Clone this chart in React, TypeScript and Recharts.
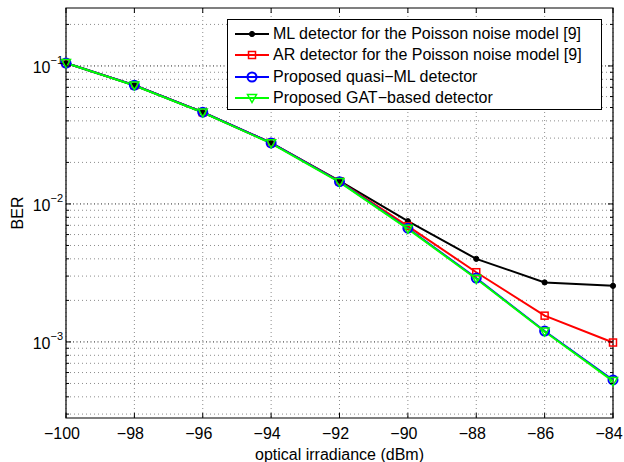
import { CartesianGrid, Legend, Line, LineChart, ReferenceArea, XAxis, YAxis } from 'recharts';

const irradiance = [-100, -98, -96, -94, -92, -90, -88, -86, -84];
const mlBer = [0.105, 0.0725, 0.0462, 0.0277, 0.0147, 0.0075, 0.004, 0.0027, 0.00255];
const arBer = [0.105, 0.0725, 0.0462, 0.0277, 0.0146, 0.0069, 0.0032, 0.00155, 0.00099];
const quasiMlBer = [0.105, 0.0725, 0.0462, 0.0277, 0.0145, 0.00667, 0.0029, 0.0012, 0.00053];
const gatBer = [0.105, 0.0722, 0.046, 0.0275, 0.0144, 0.0066, 0.00287, 0.00119, 0.00052];

const xTicks = [-100, -98, -96, -94, -92, -90, -88, -86, -84];
const decadeTicks = [0.001, 0.01, 0.1];
const minorTicks = [
    0.0003, 0.0004, 0.0005, 0.0006, 0.0007, 0.0008, 0.0009,
    0.002, 0.003, 0.004, 0.005, 0.006, 0.007, 0.008, 0.009,
    0.02, 0.03, 0.04, 0.05, 0.06, 0.07, 0.08, 0.09,
    0.2,
];
const yTicks = [...minorTicks, ...decadeTicks].sort((a, b) => a - b);
const yDomain = [0.000281, 0.263];

const seriesNames = [
    'ML detector for the Poisson noise model [9]',
    'AR detector for the Poisson noise model [9]',
    'Proposed quasi\u2212ML detector',
    'Proposed GAT\u2212based detector',
];

const data = irradiance.map((x, i) => ({
    x,
    ml: mlBer[i],
    ar: arBer[i],
    qml: quasiMlBer[i],
    gat: gatBer[i],
}));

const FONT = '"Liberation Sans", Arial, sans-serif';
const FS = 16;
const W = 624;
const H = 462;
const MARGIN = { top: 8, right: 11, left: 0, bottom: 0 };
const Y_W = 66;
const X_H = 44;
const PLOT_W = W - MARGIN.left - MARGIN.right - Y_W;
const PLOT_H = H - MARGIN.top - MARGIN.bottom - X_H;

// markers
const marker = (kind: string, cx: number, cy: number, key?: any) => {
    if (cx == null || cy == null || isNaN(cx) || isNaN(cy)) return <g key={key} />;
    if (kind === 'ml') return <circle key={key} cx={cx} cy={cy} r={2.6} fill="#000" stroke="#000" />;
    if (kind === 'ar')
        return <rect key={key} x={cx - 3.5} y={cy - 3.5} width={7} height={7} fill="none" stroke="#f00" strokeWidth={1.5} />;
    if (kind === 'qml') return <circle key={key} cx={cx} cy={cy} r={4.5} fill="none" stroke="#00f" strokeWidth={2} />;
    return (
        <polygon
            key={key}
            points={`${cx - 4.5},${cy - 3.5} ${cx + 4.5},${cy - 3.5} ${cx},${cy + 4.5}`}
            fill="none"
            stroke="#0f0"
            strokeWidth={1.5}
        />
    );
};

const series = [
    { key: 'ml', color: '#000' },
    { key: 'ar', color: '#f00' },
    { key: 'qml', color: '#00f' },
    { key: 'gat', color: '#0f0' },
];

function YTick(props: any) {
    const { x, y, payload } = props;
    const v = payload.value;
    const major = decadeTicks.includes(v);
    const len = major ? 5 : 3;
    return (
        <g>
            <line x1={x} x2={x + len} y1={y} y2={y} stroke="#000" />
            <line x1={x + PLOT_W} x2={x + PLOT_W - len} y1={y} y2={y} stroke="#000" />
            {major && (
                <text x={x - 3} y={y + 2} textAnchor="end" dominantBaseline="central" fontSize={FS} fill="#000" fontFamily={FONT}>
                    10
                    <tspan dy={-8} fontSize={11}>
                        {'\u2212' + Math.round(-Math.log10(v))}
                    </tspan>
                </text>
            )}
        </g>
    );
}

function XTick(props: any) {
    const { x, y, payload } = props;
    return (
        <g>
            <line x1={x} x2={x} y1={y} y2={y - 5} stroke="#000" />
            <line x1={x} x2={x} y1={y - PLOT_H} y2={y - PLOT_H + 5} stroke="#000" />
            {/* matlab puts the labels a little left of the tick */}
            <text x={x - 4} y={y + 15} textAnchor="middle" dominantBaseline="central" fontSize={FS} fill="#000" fontFamily={FONT}>
                {String(payload.value).replace('-', '\u2212')}
            </text>
        </g>
    );
}

function LegendBox() {
    return (
        <div
            style={{
                border: '1px solid #000',
                background: '#fff',
                width: 373,
                height: 86,
                boxSizing: 'content-box',
                fontFamily: FONT,
                fontSize: FS,
                paddingTop: 3,
            }}
        >
            {series.map((s, i) => (
                <div key={s.key} style={{ display: 'flex', alignItems: 'center', height: 21.5, whiteSpace: 'nowrap' }}>
                    <svg width={45} height={14} style={{ flex: 'none' }}>
                        <line x1={7} x2={41} y1={7} y2={7} stroke={s.color} strokeWidth={2} />
                        {marker(s.key, 24, 7)}
                    </svg>
                    <span>{seriesNames[i]}</span>
                </div>
            ))}
        </div>
    );
}

export default function App() {
    return (
        <div style={{ position: 'absolute', left: 0, top: 0, background: '#fff' }}>
            <LineChart width={W} height={H} data={data} margin={MARGIN}>
                <CartesianGrid
                    horizontalValues={minorTicks}
                    verticalValues={xTicks}
                    stroke="#8c8c8c"
                    strokeDasharray="1 3"
                />
                <CartesianGrid horizontalValues={decadeTicks} vertical={false} stroke="#222" strokeDasharray="1 2.5" />
                <XAxis
                    dataKey="x"
                    type="number"
                    domain={[-100, -84]}
                    ticks={xTicks}
                    interval={0}
                    height={X_H}
                    tickSize={0}
                    tickMargin={0}
                    tickLine={false}
                    axisLine={false}
                    tick={<XTick />}
                    label={{
                        value: 'optical irradiance (dBm)',
                        position: 'insideBottom',
                        offset: 2,
                        fontSize: FS,
                        fill: '#000',
                        fontFamily: FONT,
                    }}
                />
                <YAxis
                    scale="log"
                    type="number"
                    domain={yDomain}
                    allowDataOverflow
                    ticks={yTicks}
                    interval={0}
                    width={Y_W}
                    tickSize={0}
                    tickMargin={0}
                    tickLine={false}
                    axisLine={false}
                    tick={<YTick />}
                    label={{
                        content: (p: any) => {
                            const vb = p.viewBox;
                            const cx = vb.x + 17;
                            const cy = vb.y + vb.height / 2;
                            return (
                                <text x={cx} y={cy} transform={`rotate(-90 ${cx} ${cy})`} textAnchor="middle" dominantBaseline="central" fontSize={FS} fontFamily={FONT} fill="#000">
                                    BER
                                </text>
                            );
                        },
                    }}
                />
                <ReferenceArea x1={-100} x2={-84} y1={yDomain[0]} y2={yDomain[1]} fill="none" stroke="#000" strokeWidth={1.2} ifOverflow="visible" />
                {series.map(s => (
                    <Line
                        key={s.key}
                        dataKey={s.key}
                        name={s.key}
                        stroke={s.color}
                        strokeWidth={2}
                        isAnimationActive={false}
                        dot={(p: any) => marker(s.key, p.cx, p.cy, p.index)}
                    />
                ))}
                <Legend
                    layout="vertical"
                    align="center"
                    verticalAlign="middle"
                    content={<LegendBox />}
                    wrapperStyle={{ left: 227, top: 19, width: 375, height: 90 }}
                />
            </LineChart>
        </div>
    );
}
